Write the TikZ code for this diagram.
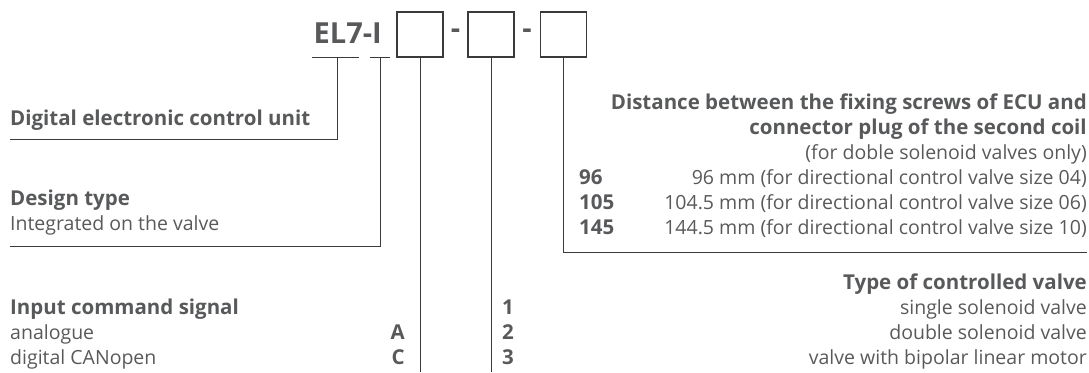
\documentclass[tikz,border=0pt]{standalone}
\usepackage{fontspec}
\setmainfont{Open Sans}
\usepackage{tikz}
\definecolor{ink}{HTML}{58595b}
\definecolor{rule}{HTML}{3a3a3a}

\begin{document}
\begin{tikzpicture}[x=1pt, y=-1pt,
    txt/.style={inner sep=0pt, text=ink, font=\fontsize{19.5}{25}\selectfont},
    bold/.style={txt, font=\fontsize{20.5}{25}\selectfont\bfseries},
    lft/.style={anchor=base west},
    rgt/.style={anchor=base east},
    slot/.style={draw=rule, line width=1.1pt, minimum width=46pt, minimum height=45pt, inner sep=0pt},
    lead/.style={draw=rule, line width=1pt}]
  \useasboundingbox (0,0) rectangle (1089,372);
  % Type code
  \node[bold, rgt, font=\fontsize{29}{30}\selectfont\bfseries] (code) at (382,43) {EL7-I};
  \node[slot] (s1) at (420,34.5) {};
  \node[txt, font=\fontsize{29}{30}\selectfont\bfseries] (d1) at (455.5,34) {-};
  \node[slot] (s2) at (491,34.5) {};
  \node[txt, font=\fontsize{29}{30}\selectfont\bfseries] (d2) at (527,34) {-};
  \node[slot] (s3) at (563.5,34.5) {};
  % Underlines below the fixed part
  \coordinate (ua) at (312,57);
  \coordinate (ub) at (359,57);
  \coordinate (uc) at (370,57);
  \coordinate (ud) at (390,57);
  \coordinate (ma) at (337,57);
  \coordinate (mb) at (380,57);
  \draw[lead] (ua) -- (ub);
  \draw[lead] (uc) -- (ud);
  % Leader ends
  \coordinate (ea) at (10,139);
  \coordinate (eb) at (10,246);
  \coordinate (ec) at (1087,252);
  \coordinate (e1) at (420,372);
  \coordinate (e2) at (491,372);
  % Leaders
  \draw[lead] (ma) |- (ea);
  \draw[lead] (mb) |- (eb);
  \draw[lead] (s1.south) -- (e1);
  \draw[lead] (s2.south) -- (e2);
  \draw[lead] (s3.south) |- (ec);

  % Left column
  \node[bold, lft] (unit) at (10,125) {Digital electronic control unit};
  \node[bold, lft] (design) at (10,205) {Design type};
  \node[txt, lft] (integ) at (10,230) {Integrated on the valve};
  \node[bold, lft] (input) at (10,314) {Input command signal};
  \node[txt, lft] (ana) at (10,339) {analogue};
  \node[txt, lft] (can) at (10,364) {digital CANopen};
  \node[bold, rgt] (ca) at (405,339) {A};
  \node[bold, rgt] (cc) at (405,364) {C};

  % Second coil distance
  \node[bold, rgt] (dist1) at (1087,109) {Distance between the fixing screws of ECU and};
  \node[bold, rgt] (dist2) at (1087,134) {connector plug of the second coil};
  \node[txt, rgt] (dist3) at (1087,159) {(for doble solenoid valves only)};
  \node[bold, lft] (c96) at (579,184) {96};
  \node[bold, lft] (c105) at (579,209) {105};
  \node[bold, lft] (c145) at (579,234) {145};
  \node[txt, rgt] (t96) at (1087,184) {96 mm (for directional control valve size 04)};
  \node[txt, rgt] (t105) at (1087,209) {104.5 mm (for directional control valve size 06)};
  \node[txt, rgt] (t145) at (1087,234) {144.5 mm (for directional control valve size 10)};

  % Valve type
  \node[bold, rgt] (vtype) at (1087,289) {Type of controlled valve};
  \node[bold, lft] (c1) at (502,314) {1};
  \node[bold, lft] (c2) at (502,339) {2};
  \node[bold, lft] (c3) at (502,364) {3};
  \node[txt, rgt] (v1) at (1087,314) {single solenoid valve};
  \node[txt, rgt] (v2) at (1087,339) {double solenoid valve};
  \node[txt, rgt] (v3) at (1087,364) {valve with bipolar linear motor};
\end{tikzpicture}
\end{document}
